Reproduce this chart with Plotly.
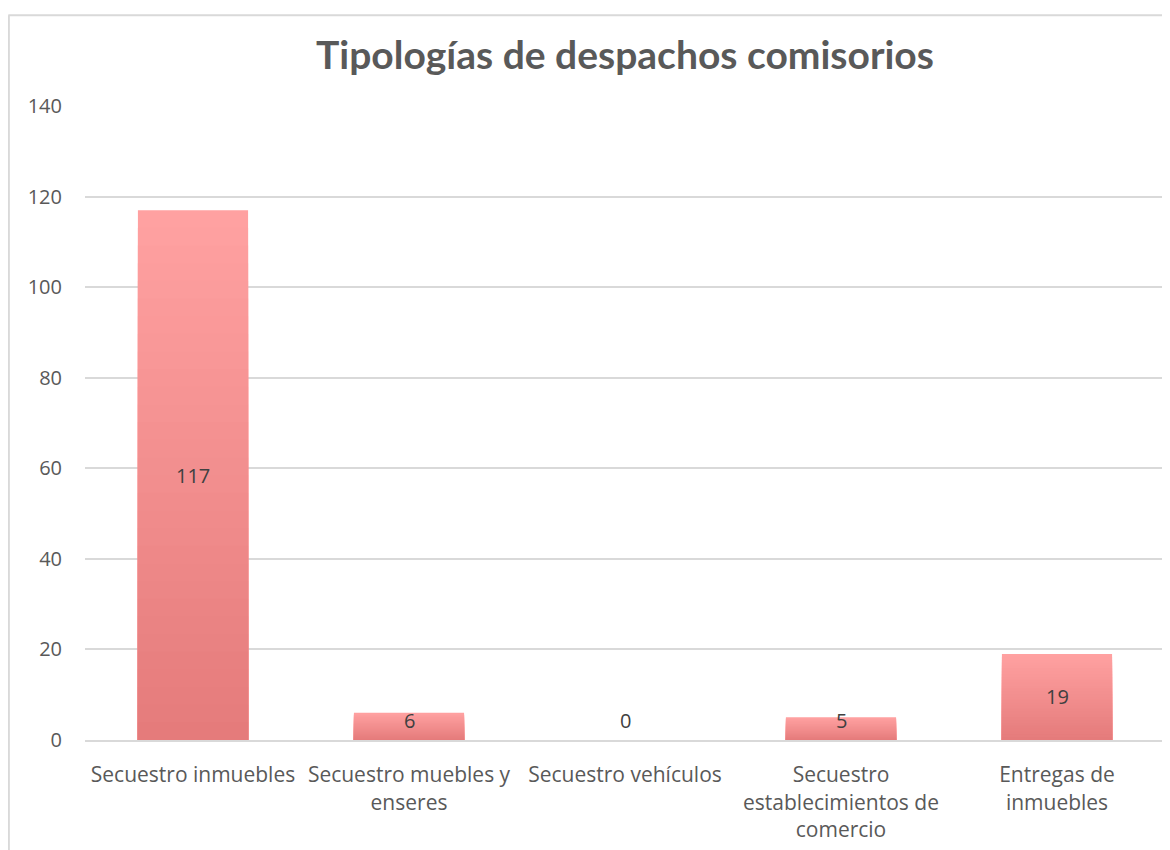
import plotly.graph_objects as go

categories = ["Secuestro inmuebles", "Secuestro muebles y<br>enseres", "Secuestro vehículos",
              "Secuestro<br>establecimientos de<br>comercio", "Entregas de<br>inmuebles"]
values = [117, 6, 0, 5, 19]
title_text = "Tipologías de despachos comisorios"
y_ticks = [0, 20, 40, 60, 80, 100, 120, 140]

top_rgb = (255, 161, 161)
bot_rgb = (228, 122, 122)
N = 30

fig = go.Figure()
for k in range(N):
    f = (N - k) / N
    c = tuple(round(bot_rgb[i] + (top_rgb[i] - bot_rgb[i]) * f) for i in range(3))
    fig.add_trace(go.Bar(
        x=categories, y=[v * f for v in values],
        marker=dict(color="rgb(%d,%d,%d)" % c, line=dict(width=0)),
        hoverinfo="skip", showlegend=False,
    ))

for cat, v in zip(categories, values):
    fig.add_annotation(x=cat, y=max(v / 2, 4.4), text=str(v), showarrow=False,
                       font=dict(family="Open Sans", size=20, color="#404040"))

# chart border (light gray)
fig.add_shape(type="line", xref="paper", yref="paper", x0=-0.071, x1=1.02, y0=1.143, y1=1.143,
              line=dict(color="#D9D9D9", width=2))
fig.add_shape(type="line", xref="paper", yref="paper", x0=-0.0705, x1=-0.0705, y0=1.143, y1=-0.2,
              line=dict(color="#D9D9D9", width=2))

fig.update_layout(
    width=1170, height=850,
    margin=dict(l=77, r=13, t=98, b=118, autoexpand=False),
    paper_bgcolor="white", plot_bgcolor="white",
    barmode="overlay", bargap=0.49,
    title=dict(text="<b>" + title_text + "</b>", x=0.5, xref="paper", y=0.9447, yanchor="middle",
               font=dict(family="Lato", size=39, color="#595959")),
    xaxis=dict(showgrid=False, showline=True, linecolor="#D9D9D9", linewidth=2,
               tickfont=dict(family="Open Sans", size=21, color="#595959"),
               ticks="", ticklabelstandoff=15),
    yaxis=dict(range=[0, 140], tickvals=y_ticks, showgrid=True, gridcolor="#D9D9D9", gridwidth=1.5,
               zeroline=False, showline=False, ticks="",
               tickfont=dict(family="Open Sans", size=20, color="#595959"),
               ticklabelstandoff=22),
    font=dict(family="Open Sans", color="#595959"),
)

fig.write_html("out.html")
